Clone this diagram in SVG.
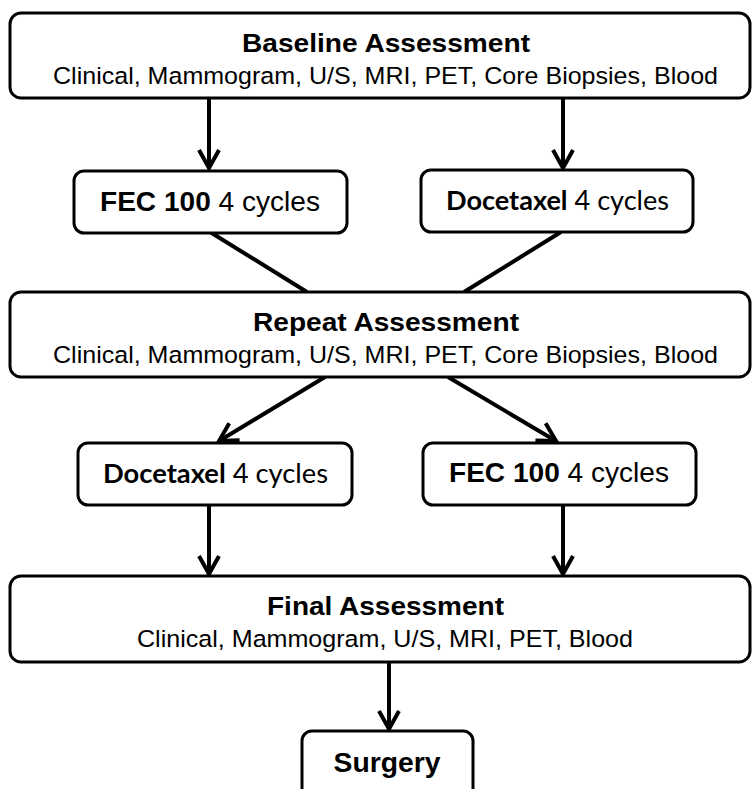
<svg xmlns="http://www.w3.org/2000/svg" width="752" height="789" viewBox="0 0 752 789">
<style>
.box{fill:#fff;stroke:#000;stroke-width:3}
.t{font-family:"Liberation Sans",Arial,sans-serif;fill:#000;text-anchor:middle}
.b{font-weight:bold}
.c{font-family:Lato,"Open Sans",sans-serif;fill:#000;text-anchor:middle}
.ln{stroke:#000;stroke-width:4;fill:none}
</style>
<defs>
<marker id="ah" viewBox="-22 -13 25 26" refX="0" refY="0" markerWidth="25" markerHeight="26" markerUnits="userSpaceOnUse" orient="auto">
<path d="M-18,-10 L0,0 L-18,10" fill="none" stroke="#000" stroke-width="4" stroke-linejoin="miter"/>
</marker>
</defs>
<rect width="752" height="789" fill="#fff"/>
<g id="connectors">
<line class="ln" x1="209" y1="98" x2="209" y2="168" marker-end="url(#ah)"/>
<line class="ln" x1="563" y1="98" x2="563" y2="168" marker-end="url(#ah)"/>
<line class="ln" x1="210" y1="232" x2="307" y2="292"/>
<line class="ln" x1="561" y1="232" x2="464" y2="292"/>
<line class="ln" x1="325" y1="377" x2="219" y2="441" marker-end="url(#ah)"/>
<line class="ln" x1="448" y1="377" x2="556" y2="441" marker-end="url(#ah)"/>
<line class="ln" x1="209" y1="505" x2="209" y2="574" marker-end="url(#ah)"/>
<line class="ln" x1="563" y1="505" x2="563" y2="574" marker-end="url(#ah)"/>
<line class="ln" x1="389" y1="662" x2="389" y2="729" marker-end="url(#ah)"/>
</g>
<g id="baseline">
<rect class="box" x="10" y="13" width="740" height="85" rx="11"/>
<text class="t b" x="386" y="52" font-size="26" textLength="288" lengthAdjust="spacingAndGlyphs">Baseline Assessment</text>
<text class="t" x="385.5" y="84" font-size="24.5" textLength="665" lengthAdjust="spacingAndGlyphs">Clinical, Mammogram, U/S, MRI, PET, Core Biopsies, Blood</text>
</g>
<g id="fec1">
<rect class="box" x="74" y="171" width="273" height="62" rx="10"/>
<text class="t" x="210" y="211" font-size="27" textLength="220" lengthAdjust="spacingAndGlyphs"><tspan class="b">FEC 100</tspan> 4 cycles</text>
</g>
<g id="doc1">
<rect class="box" x="421" y="170" width="272" height="62" rx="10"/>
<text class="c" x="557.5" y="210" font-size="27" textLength="223" lengthAdjust="spacingAndGlyphs"><tspan font-weight="bold">Docetaxel</tspan> 4 cycles</text>
</g>
<g id="repeat">
<rect class="box" x="10" y="292" width="740" height="85" rx="11"/>
<text class="t b" x="386" y="331" font-size="26" textLength="266" lengthAdjust="spacingAndGlyphs">Repeat Assessment</text>
<text class="t" x="385.5" y="363" font-size="24.5" textLength="665" lengthAdjust="spacingAndGlyphs">Clinical, Mammogram, U/S, MRI, PET, Core Biopsies, Blood</text>
</g>
<g id="doc2">
<rect class="box" x="78" y="443" width="274" height="62" rx="10"/>
<text class="c" x="215.5" y="483" font-size="27" textLength="225" lengthAdjust="spacingAndGlyphs"><tspan font-weight="bold">Docetaxel</tspan> 4 cycles</text>
</g>
<g id="fec2">
<rect class="box" x="423" y="443" width="273" height="62" rx="10"/>
<text class="t" x="559" y="482" font-size="27" textLength="220" lengthAdjust="spacingAndGlyphs"><tspan class="b">FEC 100</tspan> 4 cycles</text>
</g>
<g id="final">
<rect class="box" x="10" y="576" width="740" height="86" rx="11"/>
<text class="t b" x="385.5" y="615" font-size="26" textLength="237" lengthAdjust="spacingAndGlyphs">Final Assessment</text>
<text class="t" x="385" y="647" font-size="24.5" textLength="496" lengthAdjust="spacingAndGlyphs">Clinical, Mammogram, U/S, MRI, PET, Blood</text>
</g>
<g id="surgery">
<rect class="box" x="302" y="731" width="171" height="75" rx="10"/>
<text class="t b" x="387" y="772" font-size="28" textLength="107" lengthAdjust="spacingAndGlyphs">Surgery</text>
</g>
</svg>
